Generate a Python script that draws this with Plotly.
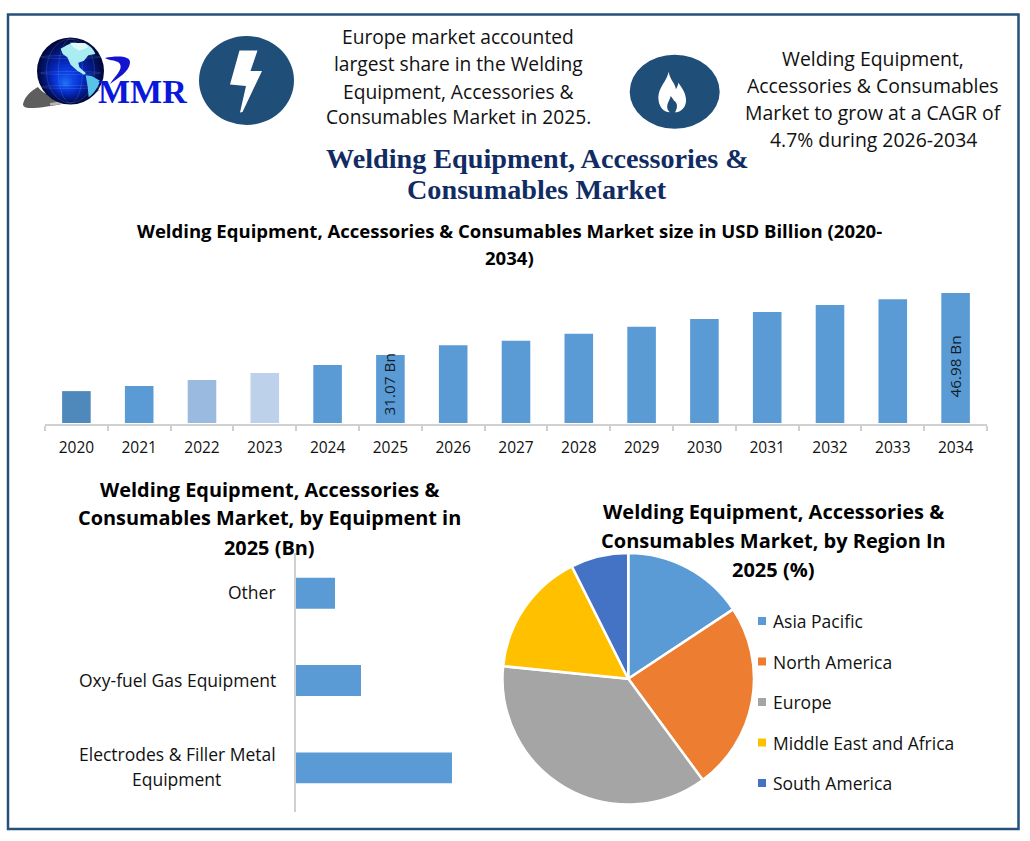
import plotly.graph_objects as go

# ---------- data ----------
years = ["2020","2021","2022","2023","2024","2025","2026","2027","2028","2029","2030","2031","2032","2033","2034"]
market_size = [21.8,23.1,24.65,26.45,28.5,31.07,33.6,34.7,36.5,38.3,40.3,42.1,43.9,45.4,46.98]
bar_colors = ["#4f88ba","#5b9bd5","#9abae0","#bdd1ea"] + ["#5b9bd5"]*11
labelled = {"2025":"31.07 Bn","2034":"46.98 Bn"}

equipment = ["Electrodes & Filler Metal Equipment","Oxy-fuel Gas Equipment","Other"]
equipment_values = [18.6,7.75,4.65]

regions = ["Asia Pacific","North America","Europe","Middle East and Africa","South America"]
region_share = [15.7,24.2,36.7,16.0,7.4]
region_colors = ["#5b9bd5","#ed7d31","#a5a5a5","#ffc000","#4472c4"]

W, H = 1030, 841
SANS = "Open Sans"
SERIF = "Liberation Serif"
INK = "#111111"
def px(x): return x/W
def py(y): return 1-y/H

fig = go.Figure()

# ---------- top bars ----------
BASE = 13.62
fig.add_trace(go.Bar(x=years, y=[v-BASE for v in market_size], base=BASE, marker=dict(color=bar_colors, line_width=0),
                     width=0.455, showlegend=False, xaxis="x", yaxis="y"))
# ---------- horizontal bars ----------
fig.add_trace(go.Bar(y=equipment, x=equipment_values, orientation="h", marker=dict(color="#5b9bd5", line_width=0),
                     width=0.354, showlegend=False, xaxis="x2", yaxis="y2"))
# ---------- pie ----------
fig.add_trace(go.Pie(labels=regions, values=region_share, sort=False, direction="clockwise", rotation=0,
                     marker=dict(colors=region_colors, line=dict(color="white", width=2.5)),
                     textinfo="none", showlegend=False,
                     domain=dict(x=[px(502.5),px(754)], y=[py(804.5),py(553)])))

fig.update_layout(
    width=W, height=H, autosize=False, margin=dict(l=0,r=0,t=0,b=0), paper_bgcolor="white", plot_bgcolor="rgba(0,0,0,0)",
    font=dict(family=SANS, color=INK), bargap=0.5,
    xaxis=dict(domain=[px(45),px(987)], type="category", range=[-0.5,14.5], tickson="boundaries", ticks="outside", ticklen=5, tickwidth=2,
               tickcolor="#d0d0d0", showline=True, linecolor="#d0d0d0", linewidth=2, showgrid=False, tickangle=0,
               ticklabelstandoff=8, tickfont=dict(family=SANS, size=15.5, color=INK), anchor="y", fixedrange=True),
    yaxis=dict(domain=[py(424),py(280)], range=[13.36,50.32], visible=False, fixedrange=True, anchor="x"),
    xaxis2=dict(domain=[px(296),px(478)], range=[0,21.7], visible=False, anchor="y2", fixedrange=True),
    yaxis2=dict(domain=[py(811.5),py(553)], type="category", categoryorder="array", categoryarray=equipment,
                range=[-0.5,2.46], showline=True, linecolor="#d0d0d0", linewidth=2, ticks="", showticklabels=False,
                showgrid=False, anchor="x2", fixedrange=True),
)

ann = []
def text(x, y, s, size, family=SANS, bold=False, color=INK, anchor="center"):
    ann.append(dict(xref="paper", yref="paper", x=px(x), y=py(y), text=f"<b>{s}</b>" if bold else s, showarrow=False,
                    xanchor=anchor, yanchor="middle", font=dict(family=family, size=size, color=color), borderpad=0))

for s, y in zip(["Europe market accounted","largest share in the Welding","Equipment, Accessories &","Consumables Market in 2025."],[36,64,91,117]):
    text(458, y, s, 19.2)
for s, y in zip(["Welding Equipment,","Accessories & Consumables","Market to grow at a CAGR of","4.7% during 2026-2034"],[58,85,112,139]):
    text(873, y, s, 19.4)
for s, y in zip(["Welding Equipment, Accessories &","Consumables Market"],[158,189]):
    text(537, y, s, 28.2, family=SERIF, bold=True, color="#112c63")
for s, y in zip(["Welding Equipment, Accessories &amp; Consumables Market size in USD Billion (2020-","2034)"],[230,257.5]):
    text(509, y, s, 18.55, bold=True, color="#000000")
for s, y in zip(["Welding Equipment, Accessories &","Consumables Market, by Equipment in","2025 (Bn)"],[489,517,547]):
    text(269.5, y, s, 19.9, bold=True, color="#000000")
for s, y in zip(["Welding Equipment, Accessories &","Consumables Market, by Region In","2025 (%)"],[512,540,569.5]):
    text(773, y, s, 20, bold=True, color="#000000")

# bar value labels, tied to their bars
for yr, lab, shift, xs in [("2025",labelled["2025"],3,-1),("2034",labelled["2034"],-42,-1)]:
    ann.append(dict(xref="x", yref="y", x=years.index(yr), y=market_size[years.index(yr)], text=lab, textangle=-90, showarrow=False,
                    yanchor="top", yshift=shift, xshift=xs, font=dict(family=SANS, size=15.3, color="#101c2a"), borderpad=0))

# horizontal bar category labels
LF = dict(family=SANS,size=17.5,color=INK)
ann.append(dict(xref="paper", yref="y2", x=px(277), y=2, yshift=1, text="Other", showarrow=False, xanchor="right", font=LF, borderpad=0))
ann.append(dict(xref="paper", yref="y2", x=px(277), y=1, yshift=1, text="Oxy-fuel Gas Equipment", showarrow=False, xanchor="right", font=LF, borderpad=0))
ann.append(dict(xref="paper", yref="y2", x=px(277), y=0, yshift=13.5, text="Electrodes &amp; Filler Metal", showarrow=False, xanchor="right", font=LF, borderpad=0))
ann.append(dict(xref="paper", yref="y2", x=px(176), y=0, yshift=-11.5, text="Equipment", showarrow=False, xanchor="center", font=LF, borderpad=0))

# legend
shapes = []
def rect(x0,y0,x1,y1,fill,line=None,lw=0):
    shapes.append(dict(type="rect",xref="paper",yref="paper",x0=px(x0),x1=px(x1),y0=py(y0),y1=py(y1),
                       fillcolor=fill,line=dict(color=line or fill,width=lw),layer="above"))
def oval(cx,cy,rx,ry,fill,line=None,lw=0,opacity=1):
    shapes.append(dict(type="circle",xref="paper",yref="paper",x0=px(cx-rx),x1=px(cx+rx),y0=py(cy-ry),y1=py(cy+ry),
                       fillcolor=fill,line=dict(color=line or fill,width=lw),layer="above",opacity=opacity))
def path(cmds,fill,opacity=1):
    out=[]
    for c in cmds:
        if isinstance(c,str): out.append(c)
        else: out.append(f"{px(c[0]):.5f},{py(c[1]):.5f}")
    shapes.append(dict(type="path",xref="paper",yref="paper",path=" ".join(out),fillcolor=fill,
                       line=dict(width=0,color=fill),layer="above",opacity=opacity))

for r, c, y in zip(regions, region_colors, [621,661.5,702,742.5,783]):
    rect(758,y-4,766,y+4,c)
    text(771.5,y,r,17.5,anchor="left")

# frame
shapes.append(dict(type="rect",xref="paper",yref="paper",x0=px(8),x1=px(1018.5),y0=py(14.5),y1=py(829),
                   fillcolor="rgba(0,0,0,0)",line=dict(color="#24527a",width=2.5),layer="below"))

# bolt icon
oval(246.5,80.5,47.5,44.5,"#1f4e79")
path(["M",(239.5,50.5),"L",(257.5,50.5),"L",(250.5,71),"L",(262,71),"L",(242.5,112),"L",(240,112.5),"L",(246,86),"L",(230,84.5),"Z"],"white")

# flame icon
oval(674.7,91.7,45,37,"#1f4e79")
fx=lambda a,b:(620+a/3,40+b/3)
path(["M",fx(146,95),"C",fx(150,120),fx(165,128),fx(168,148),"C",fx(172,140),fx(174,135),fx(175,128),
      "C",fx(188,145),fx(200,165),fx(198,185),"C",fx(196,205),fx(180,217),fx(165,217),
      "C",fx(176,200),fx(170,185),fx(162,182),"C",fx(160,178),fx(155,172),fx(152,168),
      "C",fx(150,180),fx(140,190),fx(142,205),"C",fx(143,210),fx(146,214),fx(150,217),
      "C",fx(130,217),fx(115,200),fx(115,172),"C",fx(116,140),fx(140,125),fx(146,95),"Z"],"white")

# logo: swoosh
path(["M",(23,104),"C",(25,96),(31,91),(38,87),"C",(45,97),(60,100),(100,90),
      "C",(85,100),(50,108),(30,108),"C",(26,108),(23,107),(23,104),"Z"],"#5e5e5e")
path(["M",(50,103),"C",(68,101),(85,96),(100,90),"C",(90,98),(70,104),(50,105.5),"Z"],"#b4b4b4")
# logo: globe, shaded with stacked discs
stops = [(2,9,63),(3,20,110),(5,32,160),(8,48,205),(14,70,230),(30,110,240)]
N = 16
for i in range(N):
    t = i/(N-1)*(len(stops)-1)
    j = min(int(t), len(stops)-2); f = t-j
    c = [round(stops[j][k]+(stops[j+1][k]-stops[j][k])*f) for k in range(3)]
    r = 33.5*(1-i/N)
    oval(70.5-3.5*i/N*1.6, 71+13*i/N, r, r, f"rgb({c[0]},{c[1]},{c[2]})")
for rx in (12,24):
    oval(70.5,71,rx,32,"rgba(0,0,0,0)",line="#7fb0f0",lw=0.5,opacity=0.4)
for dy in (-14,2,16):
    oval(70.5,71+dy,30,1.5,"rgba(0,0,0,0)",line="#7fb0f0",lw=0.5,opacity=0.4)
lx=lambda a,b:(20+a/3,30+b/3)
path(["M",lx(122,56),"C",lx(135,48),lx(145,42),lx(158,38),"L",lx(195,40),"C",lx(212,48),lx(222,60),lx(226,72),"L",lx(205,76),"L",lx(192,92),
      "L",lx(175,98),"L",lx(178,112),"L",lx(198,130),"L",lx(192,134),"L",lx(172,122),"L",lx(152,104),"L",lx(142,82),"L",lx(128,72),"Z"],"#a9ecf2")
path(["M",lx(150,38),"L",lx(195,40),"L",lx(205,52),"L",lx(178,62),"L",lx(160,52),"Z"],"#dff8fa")
path(["M",lx(197,136),"L",lx(215,138),"L",lx(240,152),"C",lx(236,170),lx(222,190),lx(206,202),"L",lx(203,170),"Z"],"#57c4e8")
path(["M",(105,58),"C",(115,56),(131,55),(130,63),"C",(129,72),(118,78),(110,84),"C",(115,76),(123,70),(120,64),"C",(118,60),(110,61),(105,58),"Z"],"#1414d0")
text(142,92,"MMR",34,family=SERIF,bold=True,color="#0a18dc")

fig.update_layout(annotations=ann, shapes=shapes)
fig.write_html("out.html", config=dict(displayModeBar=False), post_script="document.body.style.margin='0';document.documentElement.style.overflow='hidden';")
